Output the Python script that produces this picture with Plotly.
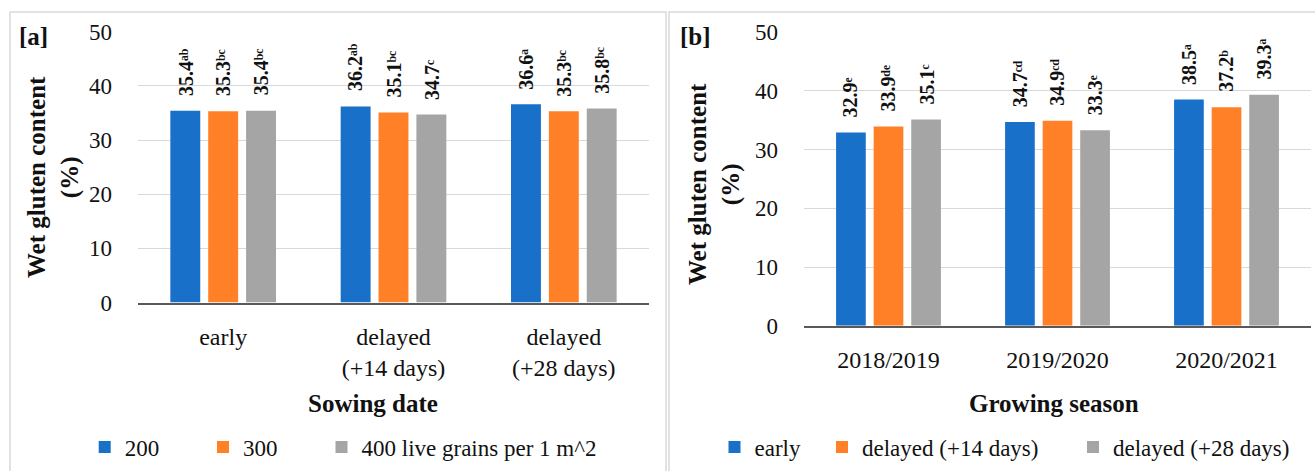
import plotly.graph_objects as go

# ---------------- data ----------------
sowing_dates = ["early", "delayed<br>(+14 days)", "delayed<br>(+28 days)"]
density_names = ["200", "300", "400 live grains per 1 m^2"]
a_200 = [35.4, 36.2, 36.6]
a_300 = [35.3, 35.1, 35.3]
a_400 = [35.4, 34.7, 35.8]
a_200_letters = ["ab", "ab", "a"]
a_300_letters = ["bc", "bc", "bc"]
a_400_letters = ["bc", "c", "bc"]

seasons = ["2018/2019", "2019/2020", "2020/2021"]
sowing_names = ["early", "delayed (+14 days)", "delayed (+28 days)"]
b_early = [32.9, 34.7, 38.5]
b_d14 = [33.9, 34.9, 37.2]
b_d28 = [35.1, 33.3, 39.3]
b_early_letters = ["e", "cd", "a"]
b_d14_letters = ["de", "cd", "b"]
b_d28_letters = ["c", "e", "a"]

y_tick_values = [0, 10, 20, 30, 40, 50]

# ---------------- style ----------------
W, H = 1315, 471
FONT = "Liberation Serif"
colors = ["#1870C8", "#FF8027", "#A5A5A5"]
BARGAP = 0.333
BARGROUPGAP = 0.21
GRID = "#D9D9D9"
TXT = "#111111"
# legend symbol centres (px) for each panel's entries
legend_pos_a = [104.7, 223, 341.5]
legend_pos_b = [734.5, 842, 1093]
SUP = str.maketrans("abcde", "ᵃᵇᶜᵈᵉ")


def px_x(p):
    return p / W


def px_y(p):
    return 1 - p / H


fig = go.Figure()

series_a = [a_200, a_300, a_400]
letters_a = [a_200_letters, a_300_letters, a_400_letters]
series_b = [b_early, b_d14, b_d28]
letters_b = [b_early_letters, b_d14_letters, b_d28_letters]

legend_names_a = ["legend", "legend2", "legend3"]
legend_names_b = ["legend4", "legend5", "legend6"]

for k in range(3):
    fig.add_trace(go.Bar(
        x=list(range(len(sowing_dates))), y=series_a[k], name=density_names[k],
        marker=dict(color=colors[k], line=dict(width=0)),
        xaxis="x", yaxis="y", legend=legend_names_a[k],
    ))
for k in range(3):
    fig.add_trace(go.Bar(
        x=list(range(len(seasons))), y=series_b[k], name=sowing_names[k],
        marker=dict(color=colors[k], line=dict(width=0)),
        xaxis="x2", yaxis="y2", legend=legend_names_b[k],
    ))

annotations = []
slot = (1 - BARGAP) / 3
for series, letters, xr, yr in [(series_a, letters_a, "x", "y"),
                                (series_b, letters_b, "x2", "y2")]:
    for k in range(3):
        for i, v in enumerate(series[k]):
            annotations.append(dict(
                x=i + (k - 1) * slot, y=v, xref=xr, yref=yr,
                text=f"{v:.1f}{letters[k][i].translate(SUP)}",
                textangle=-90, showarrow=False, xanchor="center", yanchor="bottom",
                yshift=13, font=dict(family=FONT, size=20, color=TXT, weight="bold"),
            ))

title_font = dict(family=FONT, size=25, color=TXT, weight="bold")
# panel labels
annotations.append(dict(x=px_x(17), y=px_y(37), xref="paper", yref="paper", text="[a]",
                        showarrow=False, xanchor="left", yanchor="middle", font=title_font))
annotations.append(dict(x=px_x(678), y=px_y(37), xref="paper", yref="paper", text="[b]",
                        showarrow=False, xanchor="left", yanchor="middle", font=title_font))
# y titles
annotations.append(dict(x=px_x(53), y=px_y(177), xref="paper", yref="paper",
                        text="Wet gluten content<br>(%)", textangle=-90,
                        showarrow=False, xanchor="center", yanchor="middle", font=title_font))
annotations.append(dict(x=px_x(714), y=px_y(184), xref="paper", yref="paper",
                        text="Wet gluten content<br>(%)", textangle=-90,
                        showarrow=False, xanchor="center", yanchor="middle", font=title_font))
# x titles
annotations.append(dict(x=px_x(373), y=px_y(403), xref="paper", yref="paper",
                        text="Sowing date", showarrow=False,
                        xanchor="center", yanchor="middle", font=title_font))
annotations.append(dict(x=px_x(1054), y=px_y(403), xref="paper", yref="paper",
                        text="Growing season", showarrow=False,
                        xanchor="center", yanchor="middle", font=title_font))

shapes = [
    dict(type="rect", xref="paper", yref="paper", x0=px_x(10), x1=px_x(666),
         y0=-0.02, y1=px_y(12), line=dict(color=GRID, width=1.5)),
    dict(type="rect", xref="paper", yref="paper", x0=px_x(669), x1=1.02,
         y0=-0.02, y1=px_y(12), line=dict(color=GRID, width=1.5)),
]

axis_font = dict(family=FONT, size=24, color=TXT)
common_x = dict(showgrid=False, showline=True, linecolor="#595959", linewidth=1.5,
                ticks="", tickfont=axis_font, ticklabelstandoff=12, automargin=False,
                range=[-0.5, 2.5], zeroline=False)
common_y = dict(range=[0, 50], tickvals=y_tick_values, showgrid=True, gridcolor=GRID,
                gridwidth=1, showline=False, zeroline=False, ticks="",
                tickfont=dict(family=FONT, size=23, color=TXT),
                ticklabelstandoff=25, automargin=False)

legend_font = dict(family=FONT, size=23, color=TXT)
legend_layout = {}
for name, pos in list(zip(legend_names_a, legend_pos_a)) + list(zip(legend_names_b, legend_pos_b)):
    legend_layout[name] = dict(orientation="h", x=px_x(pos - 20), y=px_y(447),
                               xanchor="left", yanchor="middle", font=legend_font,
                               bgcolor="rgba(0,0,0,0)")

fig.update_layout(
    width=W, height=H,
    margin=dict(l=0, r=0, t=0, b=0),
    paper_bgcolor="white", plot_bgcolor="white",
    barmode="group", bargap=BARGAP, bargroupgap=BARGROUPGAP,
    xaxis=dict(domain=[px_x(138), px_x(649)], anchor="y",
               tickvals=list(range(len(sowing_dates))), ticktext=sowing_dates, **common_x),
    yaxis=dict(domain=[px_y(302.5), px_y(31.7)], anchor="x", **common_y),
    xaxis2=dict(domain=[px_x(804), px_x(1311)], anchor="y2",
                tickvals=list(range(len(seasons))), ticktext=seasons, **common_x),
    yaxis2=dict(domain=[px_y(325.8), px_y(32)], anchor="x2", **common_y),
    annotations=annotations,
    shapes=shapes,
    showlegend=True,
    **legend_layout,
)

fig.write_html("out.html")
